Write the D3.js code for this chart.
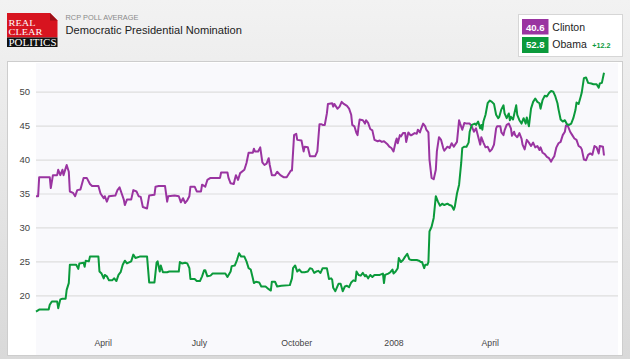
<!DOCTYPE html>
<html><head><meta charset="utf-8">
<script src="https://cdn.jsdelivr.net/npm/d3@7"></script>
<style>
html,body{margin:0;padding:0;background:#e6e6e6;}
body{width:630px;height:359px;overflow:hidden;}
svg{display:block;}
</style></head><body>
<svg id="c" width="630" height="359"></svg>
<script>
const clintonDates = ["2007-01-28","2007-01-30","2007-01-31","2007-02-10","2007-02-11","2007-02-13","2007-02-17","2007-02-18","2007-02-20","2007-02-22","2007-02-23","2007-02-25","2007-02-26","2007-02-28","2007-03-01","2007-03-04","2007-03-06","2007-03-08","2007-03-11","2007-03-14","2007-03-17","2007-03-20","2007-03-22","2007-03-28","2007-03-30","2007-04-02","2007-04-03","2007-04-05","2007-04-07","2007-04-13","2007-04-15","2007-04-17","2007-04-19","2007-04-21","2007-04-22","2007-04-24","2007-04-28","2007-04-30","2007-05-03","2007-05-05","2007-05-07","2007-05-09","2007-05-13","2007-05-15","2007-05-20","2007-05-21","2007-05-24","2007-05-30","2007-06-01","2007-06-02","2007-06-08","2007-06-12","2007-06-14","2007-06-16","2007-06-18","2007-06-20","2007-06-22","2007-06-23","2007-06-27","2007-06-29","2007-07-03","2007-07-04","2007-07-07","2007-07-09","2007-07-12","2007-07-21","2007-07-22","2007-07-28","2007-07-29","2007-07-31","2007-08-03","2007-08-04","2007-08-05","2007-08-07","2007-08-09","2007-08-13","2007-08-15","2007-08-17","2007-08-21","2007-08-22","2007-08-23","2007-08-26","2007-08-28","2007-08-30","2007-09-01","2007-09-03","2007-09-05","2007-09-06","2007-09-08","2007-09-11","2007-09-13","2007-09-16","2007-09-19","2007-09-22","2007-09-26","2007-09-27","2007-09-29","2007-10-01","2007-10-02","2007-10-06","2007-10-08","2007-10-09","2007-10-12","2007-10-14","2007-10-19","2007-10-21","2007-10-23","2007-10-25","2007-10-26","2007-10-28","2007-10-30","2007-10-31","2007-11-04","2007-11-05","2007-11-06","2007-11-09","2007-11-11","2007-11-13","2007-11-15","2007-11-18","2007-11-20","2007-11-22","2007-11-23","2007-11-25","2007-11-27","2007-11-28","2007-11-29","2007-11-30","2007-12-03","2007-12-05","2007-12-06","2007-12-08","2007-12-10","2007-12-12","2007-12-14","2007-12-17","2007-12-19","2007-12-21","2007-12-23","2007-12-26","2007-12-28","2007-12-30","2008-01-01","2008-01-03","2008-01-04","2008-01-05","2008-01-07","2008-01-08","2008-01-10","2008-01-12","2008-01-13","2008-01-15","2008-01-17","2008-01-18","2008-01-21","2008-01-23","2008-01-24","2008-01-26","2008-01-27","2008-01-29","2008-01-31","2008-02-01","2008-02-03","2008-02-04","2008-02-06","2008-02-08","2008-02-10","2008-02-11","2008-02-13","2008-02-15","2008-02-17","2008-02-18","2008-02-21","2008-02-23","2008-02-25","2008-02-27","2008-03-01","2008-03-03","2008-03-04","2008-03-06","2008-03-08","2008-03-10","2008-03-13","2008-03-15","2008-03-17","2008-03-19","2008-03-21","2008-03-23","2008-03-24","2008-03-26","2008-03-28","2008-03-30","2008-04-01","2008-04-03","2008-04-05","2008-04-07","2008-04-08","2008-04-11","2008-04-12","2008-04-14","2008-04-15","2008-04-17","2008-04-19","2008-04-21","2008-04-22","2008-04-24","2008-04-25","2008-04-27","2008-04-29","2008-05-01","2008-05-02","2008-05-04","2008-05-06","2008-05-08","2008-05-10","2008-05-12","2008-05-14","2008-05-16","2008-05-18","2008-05-19","2008-05-21","2008-05-23","2008-05-25","2008-05-27","2008-05-29","2008-05-30","2008-06-01","2008-06-03","2008-06-05","2008-06-07","2008-06-09","2008-06-11","2008-06-12","2008-06-14","2008-06-16","2008-06-18","2008-06-20","2008-06-22","2008-06-24","2008-06-26","2008-06-27","2008-06-29","2008-07-01","2008-07-03","2008-07-05","2008-07-07","2008-07-09","2008-07-11","2008-07-13","2008-07-14","2008-07-17","2008-07-18"];
const clintonValues = [34.6,34.6,37.4,37.4,35.8,37.7,37.7,38.5,37.7,38.5,37.7,38.7,39.2,38.2,35.3,35.1,34.6,35.5,35.6,37.3,37.3,36.4,36.1,36.1,35.0,34.3,34.6,33.8,34.6,34.7,35.5,35.9,35.0,34.1,33.3,34.1,34.1,35.5,35.3,34.6,34.5,33.0,32.8,34.7,34.8,36.0,36.1,36.1,33.8,34.6,34.7,34.6,33.7,34.3,33.6,34.0,34.6,36.0,36.0,35.3,35.3,36.3,36.0,37.0,37.3,37.3,38.1,38.1,37.3,36.5,36.4,37.1,37.7,37.0,38.0,38.5,39.5,41.0,41.0,41.6,41.2,41.2,41.8,39.6,39.2,39.4,40.2,39.2,37.7,37.7,38.2,37.7,37.4,37.4,38.4,38.4,43.6,43.8,42.9,42.8,41.2,41.9,41.8,40.5,40.5,41.2,45.2,45.2,45.1,45.1,46.8,48.2,48.3,47.8,48.2,47.5,47.8,48.5,48.2,47.9,47.5,46.6,45.1,44.9,43.9,43.6,44.9,45.9,45.8,45.3,45.8,45.4,44.5,44.3,42.9,42.7,42.8,42.6,42.7,42.3,41.9,41.7,41.2,42.6,43.1,42.4,43.6,43.4,43.9,43.9,42.6,44.0,43.6,43.6,43.9,43.8,44.4,44.0,44.5,45.3,44.9,44.4,44.0,40.0,37.3,37.1,38.5,41.2,43.3,42.9,41.7,41.3,41.9,41.7,42.4,41.9,42.6,45.8,45.3,44.4,45.4,45.3,45.3,44.9,44.1,44.6,43.4,42.2,43.3,42.5,41.8,41.9,41.2,41.5,42.2,44.6,44.9,44.9,44.0,43.6,44.3,45.1,45.3,44.6,43.5,44.1,43.6,43.3,43.9,43.1,42.2,41.5,42.9,42.5,42.0,42.5,41.8,42.0,41.4,41.8,41.0,40.8,40.4,40.2,39.7,40.0,40.5,41.8,42.4,42.6,43.6,44.1,45.0,44.9,44.1,43.6,43.1,42.9,42.0,41.8,41.5,40.0,39.9,40.7,40.9,40.7,42.0,41.8,40.9,42.0,41.9,40.6];

const obamaDates = ["2007-01-28","2007-01-31","2007-02-09","2007-02-10","2007-02-12","2007-02-17","2007-02-18","2007-02-20","2007-02-22","2007-02-25","2007-02-26","2007-02-28","2007-03-01","2007-03-07","2007-03-09","2007-03-10","2007-03-14","2007-03-15","2007-03-16","2007-03-19","2007-03-20","2007-03-28","2007-03-29","2007-03-31","2007-04-02","2007-04-03","2007-04-05","2007-04-07","2007-04-10","2007-04-12","2007-04-14","2007-04-16","2007-04-18","2007-04-20","2007-04-22","2007-04-24","2007-04-28","2007-04-30","2007-05-02","2007-05-06","2007-05-13","2007-05-15","2007-05-20","2007-05-22","2007-05-23","2007-05-25","2007-05-26","2007-05-28","2007-06-01","2007-06-03","2007-06-08","2007-06-12","2007-06-13","2007-06-15","2007-06-18","2007-06-20","2007-06-22","2007-06-23","2007-06-27","2007-06-29","2007-07-02","2007-07-04","2007-07-06","2007-07-07","2007-07-09","2007-07-12","2007-07-14","2007-07-26","2007-07-28","2007-07-31","2007-08-01","2007-08-04","2007-08-06","2007-08-08","2007-08-10","2007-08-13","2007-08-15","2007-08-17","2007-08-19","2007-08-21","2007-08-22","2007-08-24","2007-08-27","2007-08-29","2007-09-02","2007-09-05","2007-09-07","2007-09-08","2007-09-11","2007-09-13","2007-09-17","2007-09-25","2007-09-27","2007-09-28","2007-09-30","2007-10-02","2007-10-04","2007-10-06","2007-10-09","2007-10-12","2007-10-14","2007-10-16","2007-10-18","2007-10-20","2007-10-22","2007-10-24","2007-10-26","2007-10-28","2007-10-30","2007-11-01","2007-11-03","2007-11-04","2007-11-05","2007-11-07","2007-11-10","2007-11-12","2007-11-14","2007-11-16","2007-11-18","2007-11-20","2007-11-22","2007-11-24","2007-11-26","2007-11-27","2007-11-29","2007-12-01","2007-12-03","2007-12-05","2007-12-06","2007-12-08","2007-12-10","2007-12-12","2007-12-14","2007-12-19","2007-12-22","2007-12-23","2007-12-24","2007-12-27","2007-12-29","2007-12-31","2008-01-01","2008-01-03","2008-01-05","2008-01-06","2008-01-08","2008-01-10","2008-01-12","2008-01-14","2008-01-16","2008-01-18","2008-01-23","2008-01-25","2008-01-27","2008-01-28","2008-01-30","2008-01-31","2008-02-02","2008-02-03","2008-02-04","2008-02-06","2008-02-08","2008-02-10","2008-02-12","2008-02-14","2008-02-16","2008-02-18","2008-02-21","2008-02-23","2008-02-25","2008-02-27","2008-02-28","2008-03-01","2008-03-03","2008-03-05","2008-03-06","2008-03-08","2008-03-10","2008-03-12","2008-03-13","2008-03-15","2008-03-18","2008-03-19","2008-03-21","2008-03-23","2008-03-24","2008-03-25","2008-03-26","2008-03-28","2008-03-30","2008-04-01","2008-04-03","2008-04-05","2008-04-07","2008-04-09","2008-04-10","2008-04-12","2008-04-14","2008-04-15","2008-04-17","2008-04-19","2008-04-20","2008-04-21","2008-04-23","2008-04-25","2008-04-26","2008-04-27","2008-04-29","2008-05-01","2008-05-03","2008-05-05","2008-05-06","2008-05-08","2008-05-10","2008-05-12","2008-05-14","2008-05-16","2008-05-18","2008-05-19","2008-05-21","2008-05-23","2008-05-25","2008-05-27","2008-05-29","2008-05-31","2008-06-02","2008-06-04","2008-06-05","2008-06-07","2008-06-09","2008-06-11","2008-06-13","2008-06-15","2008-06-17","2008-06-19","2008-06-21","2008-06-22","2008-06-24","2008-06-26","2008-06-27","2008-06-29","2008-07-01","2008-07-03","2008-07-06","2008-07-08","2008-07-11","2008-07-13","2008-07-14","2008-07-16","2008-07-18"];
const obamaValues = [17.6,17.9,17.9,18.6,19.1,19.1,18.1,19.4,19.5,19.5,20.8,21.8,24.5,24.5,23.9,24.7,24.8,24.2,25.1,25.0,25.7,25.7,23.5,23.2,22.5,23.0,22.8,22.2,22.2,22.5,22.1,23.0,23.4,24.5,25.1,24.7,25.0,26.0,25.5,25.7,25.7,21.9,21.9,24.8,25.0,23.5,24.4,23.4,23.4,23.5,23.5,23.5,24.9,24.7,24.8,24.7,24.0,22.4,22.4,22.1,22.1,22.8,23.7,23.7,22.8,22.9,23.2,23.2,22.7,23.5,24.3,24.4,25.2,26.2,25.7,25.7,25.0,24.0,23.8,22.5,21.8,22.0,21.9,21.3,21.3,20.9,20.7,22.0,22.0,21.3,21.4,21.5,22.5,24.0,24.4,23.5,23.8,23.4,23.4,23.5,24.0,23.9,23.3,23.5,23.6,23.3,24.0,24.0,24.0,22.4,22.5,22.3,21.1,20.6,21.7,21.7,20.6,21.3,21.4,21.2,21.9,22.2,22.1,23.5,23.0,22.9,23.3,22.8,23.0,22.5,23.0,22.7,23.0,23.0,23.2,21.8,23.0,23.2,23.4,23.8,23.2,23.5,24.0,25.5,24.9,25.2,25.7,26.1,25.3,25.2,25.2,25.1,24.9,24.9,24.0,24.5,24.5,24.9,29.4,30.1,31.4,34.6,33.8,33.2,33.5,33.3,33.5,33.3,33.2,32.6,33.1,35.0,36.3,39.5,41.7,41.9,41.9,42.5,44.1,45.1,45.3,45.1,45.6,44.6,45.1,44.4,45.6,46.6,48.3,48.7,48.5,48.2,46.6,46.1,46.3,47.4,48.0,46.8,46.1,46.8,45.8,46.3,45.9,47.3,48.0,46.6,45.8,45.3,46.1,45.3,46.2,44.9,47.5,48.5,49.0,48.5,48.3,47.5,48.8,49.4,49.3,49.8,50.1,50.0,49.3,48.3,47.4,45.9,45.6,45.8,45.2,45.1,45.3,46.1,47.3,48.4,48.2,49.3,49.9,52.0,52.1,51.3,51.2,51.1,51.1,50.6,51.2,51.3,52.8];

const seriesNames = ["Clinton", "Obama"];
const seriesColors = ["#9a34a1", "#0b9a3b"];
const yTicks = [20, 25, 30, 35, 40, 45, 50];
const xTickDates = ["2007-04-01", "2007-07-01", "2007-10-01", "2008-01-01", "2008-04-01"];
const xTickLabels = ["April", "July", "October", "2008", "April"];
const logoWords = ["REAL", "CLEAR", "POLITICS"];
const subTitle = "RCP POLL AVERAGE";
const mainTitle = "Democratic Presidential Nomination";

const parse = d3.timeParse("%Y-%m-%d");
const series = [
  {name: seriesNames[0], color: seriesColors[0], pts: clintonDates.map((d, i) => ({date: parse(d), v: clintonValues[i]}))},
  {name: seriesNames[1], color: seriesColors[1], pts: obamaDates.map((d, i) => ({date: parse(d), v: obamaValues[i]}))}
];

const svg = d3.select("#c");
const SANS = "'Liberation Sans', Arial, Helvetica, sans-serif";

// background gradient
const defs = svg.append("defs");
const grad = defs.append("linearGradient").attr("id", "bg").attr("x1", 0).attr("y1", 0).attr("x2", 0).attr("y2", 1);
grad.append("stop").attr("offset", "0%").attr("stop-color", "#f2f2f2");
grad.append("stop").attr("offset", "100%").attr("stop-color", "#d9d9d9");
svg.append("rect").attr("width", 630).attr("height", 359).attr("fill", "url(#bg)");

// logo
const logo = svg.append("g");
logo.append("polygon").attr("points", "7,13 50,13 57.5,20.5 57.5,37.5 7,37.5").attr("fill", "#d7141f");
logo.append("polygon").attr("points", "50,13 50,20.5 57.5,20.5").attr("fill", "#9c0f17");
logo.append("rect").attr("x", 7).attr("y", 37.5).attr("width", 50.5).attr("height", 9.5).attr("fill", "#111");
[[25.6, 27, 8.2], [34.9, 34, 8.2], [45.7, 48, 9.6]].forEach(([yy, w, fs], i) => {
  logo.append("text").attr("x", 8.5).attr("y", yy).text(logoWords[i])
    .attr("font-family", "'Liberation Serif', 'Times New Roman', serif").attr("font-size", fs).attr("fill", "#fff")
    .attr("textLength", w).attr("lengthAdjust", "spacingAndGlyphs");
});

// titles
svg.append("text").attr("x", 65.5).attr("y", 20).text(subTitle)
  .attr("font-family", SANS).attr("font-size", 7.4).attr("fill", "#8a8a8a");
svg.append("text").attr("x", 65.5).attr("y", 34.3).text(mainTitle)
  .attr("font-family", SANS).attr("font-size", 11.1).attr("fill", "#222");

// legend
const lg = svg.append("g");
lg.append("rect").attr("x", 518.5).attr("y", 14.5).attr("width", 104).attr("height", 42)
  .attr("fill", "#fff").attr("stroke", "#d6d6d6");
const lastVals = series.map(s => s.pts[s.pts.length - 1].v);
const legendRows = [{y: 19, h: 15.5, base: 30.6}, {y: 37, h: 16, base: 48.4}];
series.forEach((s, i) => {
  const r = legendRows[i];
  lg.append("rect").attr("x", 522).attr("y", r.y).attr("width", 26.5).attr("height", r.h).attr("fill", s.color);
  lg.append("text").attr("x", 535.3).attr("y", r.base).attr("text-anchor", "middle").text(d3.format(".1f")(lastVals[i]))
    .attr("font-family", SANS).attr("font-size", 9.6).attr("font-weight", "bold").attr("fill", "#fff");
  lg.append("text").attr("x", 552.3).attr("y", r.base).text(s.name)
    .attr("font-family", SANS).attr("font-size", 10.5).attr("fill", "#222");
});
lg.append("text").attr("x", 592.3).attr("y", 47.7).text("+" + d3.format(".1f")(lastVals[1] - lastVals[0]))
  .attr("font-family", SANS).attr("font-size", 7.2).attr("font-weight", "bold").attr("fill", seriesColors[1]);

// panel
svg.append("rect").attr("x", 7.5).attr("y", 61.5).attr("width", 615).attr("height", 294)
  .attr("fill", "#fff").attr("stroke", "#cdcdcd");
const plotL = 36, plotR = 618, plotT = 63, plotB = 355;
svg.append("rect").attr("x", plotL).attr("y", plotT).attr("width", plotR - plotL).attr("height", plotB - plotT)
  .attr("fill", "#f9f9fc");

// scales
const x = d3.scaleTime().domain([parse("2007-01-28"), parse("2008-07-18")]).range([36, 604]);
const y = d3.scaleLinear().domain([12, 54]).range([349.6, 64.55]);

// y axis with gridlines
const yAxis = svg.append("g").attr("transform", `translate(${plotL},0)`)
  .call(d3.axisLeft(y).tickValues(yTicks).tickSize(-(plotR - plotL)).tickPadding(6).tickFormat(d3.format("d")));
yAxis.select(".domain").remove();
yAxis.selectAll(".tick line").attr("stroke", "#dedede").attr("stroke-width", 1.2);
yAxis.selectAll(".tick text").attr("font-family", SANS).attr("font-size", 9.5).attr("fill", "#444");

// x axis
const xAxis = svg.append("g").attr("transform", `translate(0,333)`)
  .call(d3.axisBottom(x).tickValues(xTickDates.map(parse)).tickSize(0).tickPadding(7)
    .tickFormat((d, i) => xTickLabels[i]));
xAxis.select(".domain").remove();
xAxis.selectAll(".tick text").attr("font-family", SANS).attr("font-size", 8.7).attr("fill", "#444");

// lines
const line = d3.line().x(d => x(d.date)).y(d => y(d.v));
series.forEach(s => {
  svg.append("path").datum(s.pts).attr("d", line).attr("fill", "none")
    .attr("stroke", s.color).attr("stroke-width", 2).attr("stroke-linejoin", "round");
});
</script>
</body></html>
